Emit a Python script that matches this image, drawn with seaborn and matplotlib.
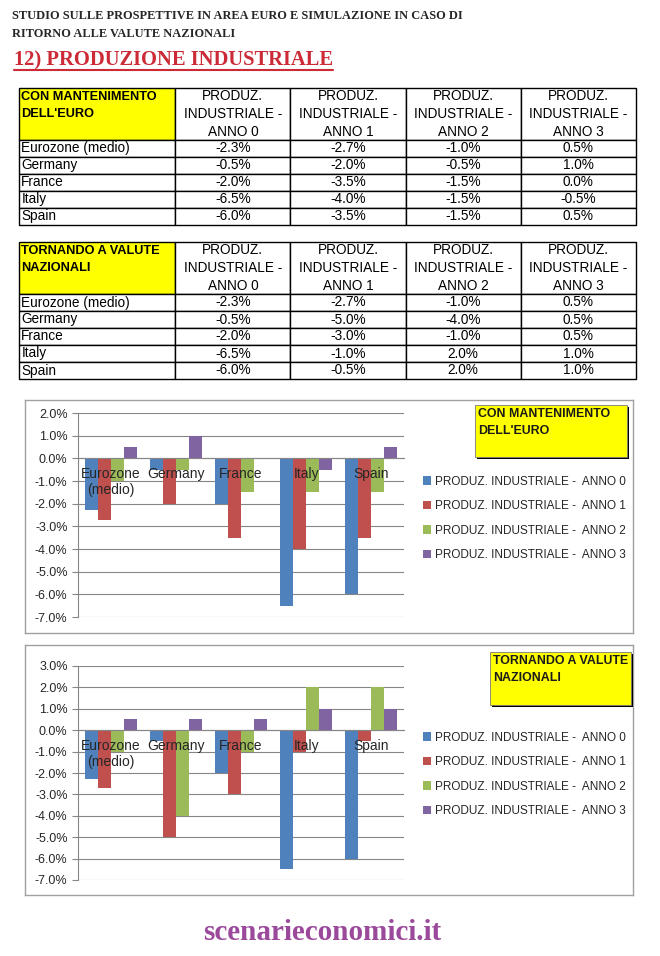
import numpy as np
import pandas as pd
import seaborn as sns
import matplotlib.pyplot as plt
from matplotlib import font_manager
from matplotlib.patches import Rectangle
from matplotlib.lines import Line2D

paesi = ["Eurozone (medio)", "Germany", "France", "Italy", "Spain"]
etichette = ["Eurozone\n(medio)", "Germany", "France", "Italy", "Spain"]
serie = ["PRODUZ. INDUSTRIALE -  ANNO 0", "PRODUZ. INDUSTRIALE -  ANNO 1",
         "PRODUZ. INDUSTRIALE -  ANNO 2", "PRODUZ. INDUSTRIALE -  ANNO 3"]
intestazioni = ["PRODUZ.\nINDUSTRIALE -\nANNO 0", "PRODUZ.\nINDUSTRIALE -\nANNO 1",
                "PRODUZ.\nINDUSTRIALE -\nANNO 2", "PRODUZ.\nINDUSTRIALE -\nANNO 3"]

euro_anno0 = [-2.3, -0.5, -2.0, -6.5, -6.0]
euro_anno1 = [-2.7, -2.0, -3.5, -4.0, -3.5]
euro_anno2 = [-1.0, -0.5, -1.5, -1.5, -1.5]
euro_anno3 = [0.5, 1.0, 0.0, -0.5, 0.5]

naz_anno0 = [-2.3, -0.5, -2.0, -6.5, -6.0]
naz_anno1 = [-2.7, -5.0, -3.0, -1.0, -0.5]
naz_anno2 = [-1.0, -4.0, -1.0, 2.0, 2.0]
naz_anno3 = [0.5, 0.5, 0.5, 1.0, 1.0]

colori = ["#4F81BD", "#C0504D", "#9BBB59", "#8064A2"]

sns.set_style("white")
nomi = {f.name for f in font_manager.fontManager.ttflist}
stretto = "Liberation Sans Narrow" if "Liberation Sans Narrow" in nomi else "Liberation Sans"
plt.rcParams["font.family"] = ["Liberation Sans", "DejaVu Sans"]

W, H = 660, 956
fig = plt.figure(figsize=(6.6, 9.56), dpi=100)


def px(x0, y0, x1, y1):
    return [x0 / W, 1 - y1 / H, (x1 - x0) / W, (y1 - y0) / H]


# titoli
serif = ["Liberation Serif", "DejaVu Serif"]
fig.text(12 / W, 1 - 16 / H, "STUDIO SULLE PROSPETTIVE IN AREA EURO E SIMULAZIONE IN CASO DI",
         family=serif, weight="bold", fontsize=8.9, va="center")
fig.text(12 / W, 1 - 34 / H, "RITORNO ALLE VALUTE NAZIONALI",
         family=serif, weight="bold", fontsize=8.9, va="center")
rosso = "#CC2A36"
t = fig.text(14 / W, 1 - 60 / H, "12) PRODUZIONE INDUSTRIALE",
             family=serif, weight="bold", fontsize=14.8, va="center", color=rosso)
fig.canvas.draw()
bb = t.get_window_extent(fig.canvas.get_renderer()).transformed(fig.transFigure.inverted())
fig.add_artist(Line2D([bb.x0, bb.x1], [1 - 70 / H, 1 - 70 / H], color=rosso, lw=1.5,
                      transform=fig.transFigure))


def tabella(box, angolo, valori):
    ax = fig.add_axes(px(*box))
    ax.axis("off")
    righe = [[angolo + "\n"] + intestazioni]
    for i, p in enumerate(paesi):
        righe.append([p] + [f"{v[i]:.1f}%" for v in valori])
    larghezze = np.array([156, 115, 115, 115, 115]) / 616
    tab = ax.table(cellText=righe, colWidths=larghezze, cellLoc="center", bbox=[0, 0, 1, 1])
    tab.auto_set_font_size(False)
    for (r, c), cella in tab.get_celld().items():
        cella.set_height(52 if r == 0 else 17)
        cella.set_linewidth(1.0)
        cella.set_edgecolor("black")
        testo = cella.get_text()
        testo.set_fontsize(9.8)
        testo.set_family([stretto, "DejaVu Sans"])
        testo.set_color("black")
        if c == 0:
            testo.set_ha("left")
            cella.PAD = 0.015
        if r == 0 and c == 0:
            cella.set_facecolor("#FFFF00")
            testo.set_linespacing(1.5)
            testo.set_weight("bold")
            testo.set_fontsize(9.2)
        if r == 0 and c > 0:
            testo.set_linespacing(1.35)


tabella((19, 88, 636, 225), "CON MANTENIMENTO\nDELL'EURO",
        [euro_anno0, euro_anno1, euro_anno2, euro_anno3])
tabella((19, 242, 636, 379), "TORNANDO A VALUTE\nNAZIONALI",
        [naz_anno0, naz_anno1, naz_anno2, naz_anno3])


def grafico(cornice, area, limiti, valori, box, titolo, leg_y):
    fr = fig.add_axes(px(*cornice))
    fr.set_xticks([])
    fr.set_yticks([])
    for s in fr.spines.values():
        s.set_color("#a0a0a0")
        s.set_linewidth(1.0)

    df = pd.DataFrame({
        "paese": paesi * 4,
        "serie": np.repeat(serie, len(paesi)),
        "valore": np.concatenate(valori),
    })
    ax = fig.add_axes(px(*area))
    sns.barplot(data=df, x="paese", y="valore", hue="serie", palette=colori,
                width=0.8, saturation=1, edgecolor="none", ax=ax)
    ax.set_ylim(*limiti)
    tacche = np.arange(limiti[0], limiti[1] + 0.5, 1)
    ax.set_yticks(tacche)
    ax.set_yticklabels([f"{v:.1f}%" for v in tacche])
    ax.set_xlim(-0.5, 4.5)
    ax.set_xticks(range(5))
    ax.set_xticklabels(etichette, fontsize=10.5, linespacing=1.25)
    ax.set_xticks(np.arange(-0.5, 5), minor=True)
    ax.tick_params(axis="x", which="major", length=0, pad=6)
    ax.tick_params(axis="x", which="minor", length=4, color="#868686")
    ax.tick_params(axis="y", length=4, color="#868686", labelsize=9, left=True)
    ax.set_xlabel("")
    ax.set_ylabel("")
    ax.grid(axis="y", color="#868686", lw=0.8)
    ax.yaxis.set_zorder(0.5)
    ax.xaxis.set_zorder(3)
    ax.spines["top"].set_visible(False)
    ax.spines["right"].set_visible(False)
    ax.spines["bottom"].set_position(("data", 0))
    ax.spines["bottom"].set_color("#868686")
    ax.spines["left"].set_color("#868686")
    ax.set_facecolor("none")

    ax.legend(loc="upper left", bbox_to_anchor=(418 / W, 1 - leg_y / H),
              bbox_transform=fig.transFigure, frameon=False, fontsize=8.5,
              handlelength=0.7, handleheight=0.7, handletextpad=0.3,
              labelspacing=1.05, borderaxespad=0)

    # riquadro giallo
    x0, y0, x1, y1 = box
    fig.add_artist(Rectangle((x0 / W + 2 / W, 1 - y1 / H - 2 / H), (x1 - x0) / W, (y1 - y0) / H,
                             transform=fig.transFigure, facecolor="black", edgecolor="none"))
    fig.add_artist(Rectangle((x0 / W, 1 - y1 / H), (x1 - x0) / W, (y1 - y0) / H,
                             transform=fig.transFigure, facecolor="#FFFF00",
                             edgecolor="#7a7a7a", lw=0.6))
    fig.text((x0 + 3) / W, 1 - (y0 + 3) / H, titolo, family=[stretto, "DejaVu Sans"],
             weight="bold", fontsize=8.9, va="top", ha="left", linespacing=1.6, color="#1a1a1a")


grafico((25, 400, 633, 633), (78, 413, 404, 617), (-7, 2),
        [euro_anno0, euro_anno1, euro_anno2, euro_anno3],
        (475, 405, 627, 457), "CON MANTENIMENTO\nDELL'EURO", 471)
grafico((25, 645, 633, 895), (78, 666, 404, 880), (-7, 3),
        [naz_anno0, naz_anno1, naz_anno2, naz_anno3],
        (490, 652, 631, 705), "TORNANDO A VALUTE\nNAZIONALI", 727)

fig.text(322 / W, 1 - 932 / H, "scenarieconomici.it", family=serif, weight="bold",
         fontsize=21, color="#9B4A9B", ha="center", va="center")

fig.savefig("out.png", dpi=100, facecolor="white")
